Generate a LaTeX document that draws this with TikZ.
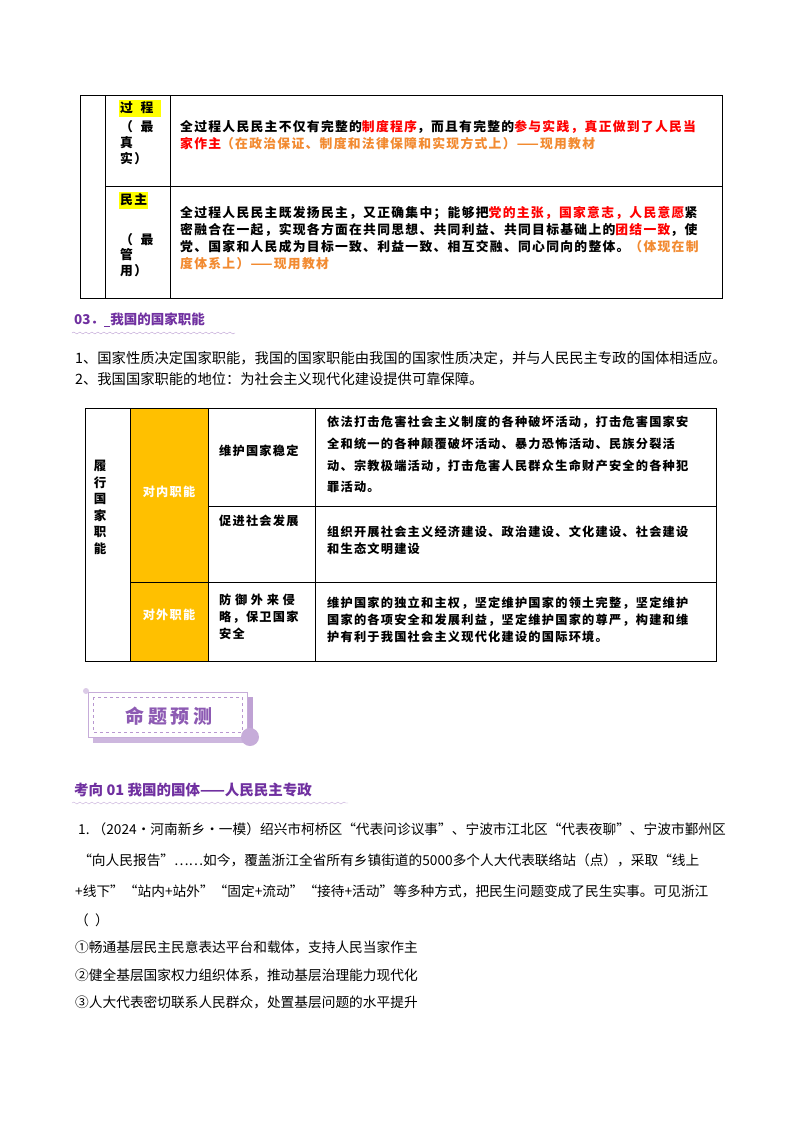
\documentclass[tikz,border=0pt]{standalone}
\usepackage{fontspec}
\setmainfont{Noto Sans CJK SC}
\newfontfamily\tbfa[LetterSpace=10]{Noto Sans CJK SC}
\usetikzlibrary{decorations.pathmorphing}
\definecolor{rd}{HTML}{FF0000}
\definecolor{og}{HTML}{F28A30}
\definecolor{pu}{HTML}{7030A0}
\definecolor{yl}{HTML}{FFC000}
\definecolor{hl}{HTML}{FFFF00}
\tikzset{
 tb/.style={anchor=west,inner sep=0pt,font=\tbfa\fontsize{12.8}{12.8}\selectfont\bfseries},
 tc/.style={anchor=west,inner sep=0pt,font=\tbfa\fontsize{12.2}{12.2}\selectfont\bfseries},
 bd/.style={anchor=west,inner sep=0pt,font=\fontsize{13.7}{13.7}\selectfont},
 bl/.style={anchor=west,inner sep=0pt,font=\fontsize{14.3}{14.3}\selectfont},
 grid/.style={draw=black,line width=0.8pt},
}
\begin{document}
\begin{tikzpicture}[x=1pt,y=-1pt]
\useasboundingbox (0,0) rectangle (800,1132);
\fill[white] (0,0) rectangle (800,1132);
% top table
\draw[grid] (80,95) -- (80,298) -- (722,298) -- (722,95) -- (80,95);
\draw[grid] (105,95) -- (105,298);
\draw[grid] (170,95) -- (170,298);
\draw[grid] (105,186) -- (722,186);
\fill[hl] (119,100) rectangle (161,117);
\node[tb] (a1) at (120,108) {过\hspace{0.6em}程};
\node[tb] (a2) at (120,127) {（\hspace{0.6em}最};
\node[tb] (a3) at (120,143) {真};
\node[tb] (a4) at (120,159) {实）};
\node[tb] (c1) at (180,127) {全过程人民民主不仅有完整的\textcolor{rd}{制度程序}，而且有完整的\textcolor{rd}{参与实践，真正做到了人民当}};
\node[tb] (c2) at (180,144) {\textcolor{rd}{家作主}\textcolor{og}{（在政治保证、制度和法律保障和实现方式上）——现用教材}};
\fill[hl] (119,192) rectangle (148,209);
\node[tb] (b1) at (120,200) {民主};
\node[tb] (b2) at (120,240) {（\hspace{0.6em}最};
\node[tb] (b3) at (120,255) {管};
\node[tb] (b4) at (120,271) {用）};
\node[tb] (d1) at (180,213) {全过程人民民主既发扬民主，又正确集中；能够把\textcolor{rd}{党的主张，国家意志，人民意愿}紧};
\node[tb] (d2) at (180,230) {密融合在一起，实现各方面在共同思想、共同利益、共同目标基础上的\textcolor{rd}{团结一致}，使};
\node[tb] (d3) at (180,247) {党、国家和人民成为目标一致、利益一致、相互交融、同心同向的整体。\textcolor{og}{（体现在制}};
\node[tb] (d4) at (180,264) {\textcolor{og}{度体系上）——现用教材}};
% heading 03
\node[anchor=west,inner sep=0pt,font=\fontsize{13.5}{13.5}\selectfont\bfseries,text=pu] (h3) at (74,320) {03．\underline{\ \ }我国的国家职能};
\draw[pu!50,decorate,decoration={snake,amplitude=1pt,segment length=6pt}] (72,333) -- (235,333);
\node[bl] (l1) at (75,358) {1、国家性质决定国家职能，我国的国家职能由我国的国家性质决定，并与人民民主专政的国体相适应。};
\node[bl] (l2) at (75,379) {2、我国国家职能的地位：为社会主义现代化建设提供可靠保障。};
% second table
\fill[yl] (130,408) rectangle (208,661);
\draw[grid] (85,408) rectangle (716,661);
\draw[grid] (130,408) -- (130,661);
\draw[grid] (208,408) -- (208,661);
\draw[grid] (315,408) -- (315,661);
\draw[grid] (208,506) -- (716,506);
\draw[grid] (130,582) -- (716,582);
\node[anchor=north,inner sep=0pt,align=center,font=\fontsize{12.5}{16.5}\selectfont\bfseries] (v) at (100,460) {履\\行\\国\\家\\职\\能};
\node[tc,anchor=center,text=white] (n1) at (169,492) {对内职能};
\node[tc,anchor=center,text=white] (n2) at (169,615) {对外职能};
\node[tc] (m1) at (219,451) {维护国家稳定};
\node[tc] (m2) at (219,521) {促进社会发展};
\node[tc] (m3) at (219,600) {防\hspace{0.3em}御\hspace{0.3em}外\hspace{0.3em}来\hspace{0.3em}侵};
\node[tc] (m4) at (219,617) {略，保卫国家};
\node[tc] (m5) at (219,634) {安全};
\node[tc] (e1) at (327,422) {依法打击危害社会主义制度的各种破坏活动，打击危害国家安};
\node[tc] (e2) at (327,444) {全和统一的各种颠覆破坏活动、暴力恐怖活动、民族分裂活};
\node[tc] (e3) at (327,466) {动、宗教极端活动，打击危害人民群众生命财产安全的各种犯};
\node[tc] (e4) at (327,487) {罪活动。};
\node[tc] (f1) at (327,532) {组织开展社会主义经济建设、政治建设、文化建设、社会建设};
\node[tc] (f2) at (327,549) {和生态文明建设};
\node[tc] (g1) at (327,603) {维护国家的独立和主权，坚定维护国家的领土完整，坚定维护};
\node[tc] (g2) at (327,620) {国家的各项安全和发展利益，坚定维护国家的尊严，构建和维};
\node[tc] (g3) at (327,637) {护有利于我国社会主义现代化建设的国际环境。};
% banner
\fill[pu!35] (93,737) rectangle (253,743);
\fill[pu!45] (247,697) rectangle (253,740);
\draw[pu!40,line width=1pt] (88,692) rectangle (247,737);
\draw[pu!50,dashed,line width=0.5pt] (93,697) rectangle (242,732);
\fill[pu!40] (250,737) circle (9);
\fill[pu!25] (86,691) circle (3);
\node[anchor=center,inner sep=0pt,font=\fontsize{19}{19}\selectfont\bfseries,text=pu!80] (bn) at (169,716) {命\hspace{0.2em}题\hspace{0.2em}预\hspace{0.2em}测};
% section title
\node[anchor=west,inner sep=0pt,font=\fontsize{14.5}{14.5}\selectfont\bfseries,text=pu] (kx) at (74,790) {考向 01\ 我国的国体——人民民主专政};
\draw[pu!40,decorate,decoration={snake,amplitude=1pt,segment length=6pt}] (72,803) -- (348,803);
% question
\node[bd] (q1) at (78,829) {1.\ （2024·河南新乡·一模）绍兴市柯桥区“代表问诊议事”、宁波市江北区“代表夜聊”、宁波市鄞州区};
\node[bd] (q2) at (75,860) {\ “向人民报告”……如今，覆盖浙江全省所有乡镇街道的5000多个人大代表联络站（点），采取“线上};
\node[bd] (q3) at (75,891) {+线下”“站内+站外”“固定+流动”“接待+活动”等多种方式，把民生问题变成了民生实事。可见浙江};
\node[bd] (q4) at (75,920) {（\ \ ）};
\node[bd] (o1) at (75,947) {①畅通基层民主民意表达平台和载体，支持人民当家作主};
\node[bd] (o2) at (75,975) {②健全基层国家权力组织体系，推动基层治理能力现代化};
\node[bd] (o3) at (75,1002) {③人大代表密切联系人民群众，处置基层问题的水平提升};
\end{tikzpicture}
\end{document}
